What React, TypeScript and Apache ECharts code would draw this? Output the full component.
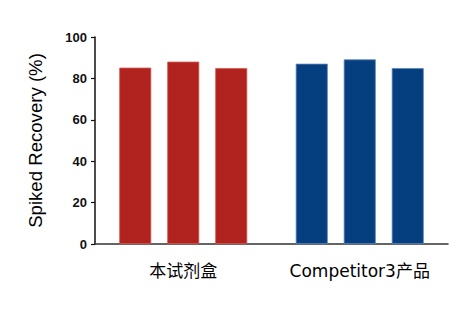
import React, { useEffect, useRef } from "react";
import * as echarts from "echarts";

const categories = ["本试剂盒", "Competitor3产品"];
const rep1 = [85.2, 87.1];
const rep2 = [88.1, 89.2];
const rep3 = [85.0, 85.0];
const groupColors = ["#B1231F", "#063F7F"];
const groupBorders = ["#D65A55", "#5D86B8"];
const yTitle = "Spiked Recovery (%)";

export default function App() {
  const ref = useRef<HTMLDivElement>(null);
  useEffect(() => {
    const chart = echarts.init(ref.current!, undefined, { renderer: "svg" });
    const mk = (vals: number[]) => ({
      type: "bar",
      barWidth: 32,
      barGap: "50%",
      data: vals.map((v, i) => ({
        value: v,
        itemStyle: { color: groupColors[i], borderColor: groupBorders[i], borderWidth: 0.8 },
      })),
    });
    chart.setOption({
      animation: false,
      grid: { left: 95, right: 16, top: 37, bottom: 68 },
      xAxis: {
        type: "category",
        data: categories,
        axisLine: { lineStyle: { color: "#333", width: 1.5 } },
        axisTick: { alignWithLabel: true, length: 5, lineStyle: { color: "#555", width: 1 } },
        axisLabel: {
          interval: 0,
          margin: 18,
          fontSize: 17,
          color: "#000",
          fontFamily: "'DejaVu Sans', 'Noto Sans CJK SC', sans-serif",
        },
      },
      yAxis: {
        type: "value",
        min: 0,
        max: 100,
        interval: 20,
        name: yTitle,
        nameLocation: "middle",
        nameGap: 50,
        nameTextStyle: { fontSize: 18.6, color: "#000", fontFamily: "'Liberation Sans', Arial, sans-serif" },
        splitLine: { show: false },
        axisLine: { show: true, lineStyle: { color: "#111", width: 1.5 } },
        axisTick: { show: true, length: 4, lineStyle: { color: "#111", width: 1.2 } },
        axisLabel: {
          margin: 8,
          fontSize: 13,
          fontWeight: "bold",
          color: "#111",
          fontFamily: "'Liberation Sans', Arial, sans-serif",
        },
      },
      series: [mk(rep1), mk(rep2), mk(rep3)],
    });
    return () => chart.dispose();
  }, []);
  return <div ref={ref} style={{ width: 464, height: 312, position: "absolute", left: 0, top: 0, background: "#fff" }} />;
}
